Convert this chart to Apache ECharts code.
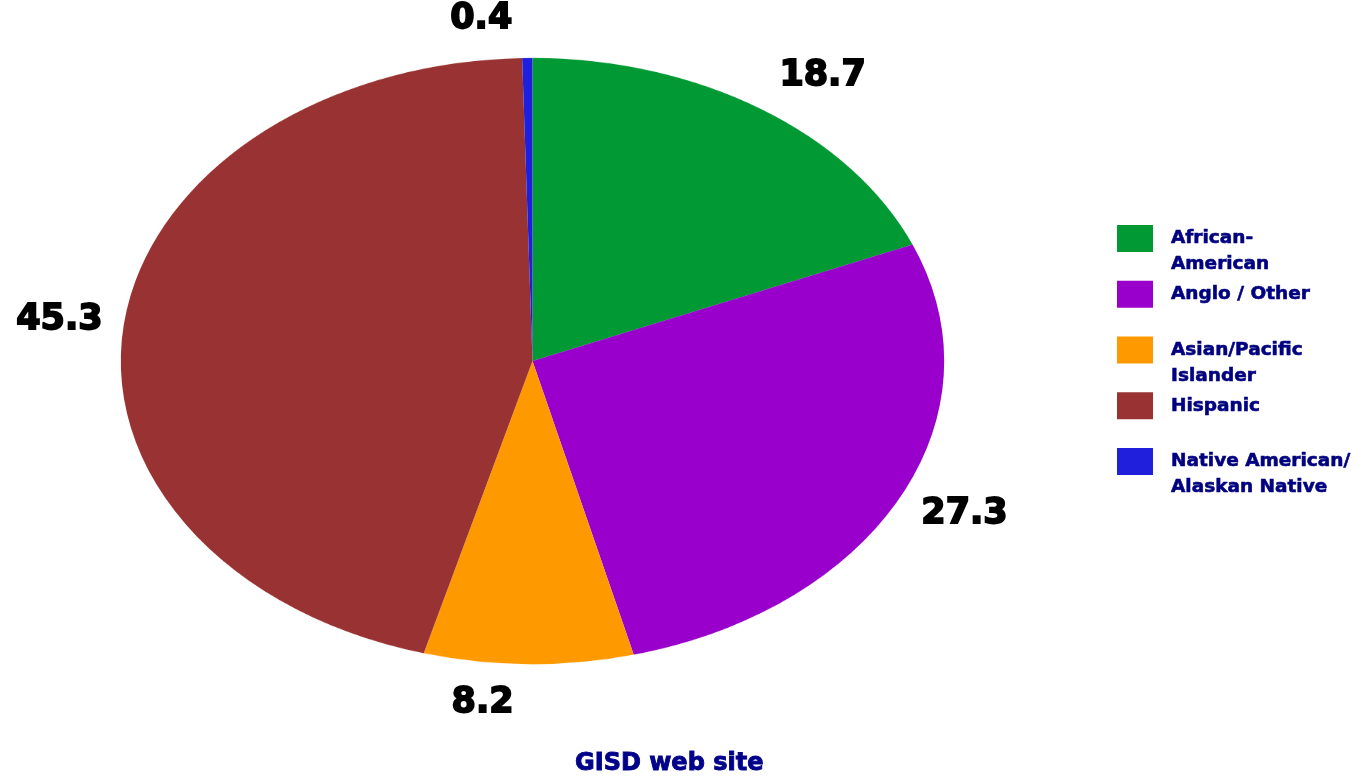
<!DOCTYPE html>
<html>

<head>
  <meta charset="utf-8" />
  <title>GISD student ethnicity</title>
  <script src="https://cdn.jsdelivr.net/npm/echarts@6/dist/echarts.min.js"></script>
  <style>
    body { margin: 0; background: #fff; overflow: hidden; }
    #wrap { position: relative; width: 1370px; height: 781px; }
    /* the pie itself is drawn round, then squashed into the flat ellipse */
    #slices { position: absolute; left: 0; top: 0; width: 1370px; height: 1061px;
      transform: scaleY(0.736); transform-origin: 0 0; }
    #overlay { position: absolute; left: 0; top: 0; width: 1370px; height: 781px; }
  </style>
</head>

<body>
  <div id="wrap">
    <div id="slices"></div>
    <div id="overlay"></div>
  </div>
  <script type="text/javascript">

    // Inline data
    let groups = ['African-American', 'Anglo / Other', 'Asian/Pacific Islander', 'Hispanic',
      'Native American/Alaskan Native'];
    let shares = [18.7, 27.3, 8.2, 45.3, 0.4];
    let legendLabels = ['African-\nAmerican', 'Anglo / Other\n ', 'Asian/Pacific\nIslander',
      'Hispanic\n ', 'Native American/\nAlaskan Native'];
    let colors = ['#009933', '#9900CC', '#FF9900', '#993333', '#2020DC'];

    let flatten = 0.736;      // vertical squash of the pie
    let labelFlatten = 0.819; // labels sit on a slightly rounder ring
    let cx = 532.5, cy = 361, radius = 411.7;

    let pieData = groups.map(function (g, i) { return { name: g, value: shares[i] }; });

    // Layer 1: coloured slices (container is scaled by CSS)
    var chartSlices = echarts.init(document.getElementById('slices'));
    chartSlices.setOption({
      animation: false,
      backgroundColor: 'transparent',
      color: colors,
      series: [
        {
          type: 'pie',
          center: [cx, cy / flatten],
          radius: radius,
          startAngle: 90,
          clockwise: true,
          silent: true,
          label: { show: false },
          labelLine: { show: false },
          itemStyle: { borderWidth: 0 },
          data: pieData
        }
      ]
    });

    // Layer 2: value labels, legend and source line
    var chartOverlay = echarts.init(document.getElementById('overlay'));
    chartOverlay.setOption({
      animation: false,
      backgroundColor: 'transparent',
      title: {
        text: 'GISD web site',
        left: 575,
        top: 752,
        padding: 0,
        textStyle: {
          fontFamily: 'DejaVu Sans',
          fontWeight: 'bold',
          fontSize: 24,
          color: '#00008B',
          textBorderColor: '#00008B',
          textBorderWidth: 0.9
        }
      },
      legend: {
        orient: 'vertical',
        left: 1117,
        top: 199.5,
        padding: 0,
        icon: 'rect',
        itemWidth: 36,
        itemHeight: 27,
        itemGap: -22.25,
        selectedMode: false,
        data: groups.map(function (g, i) { return { name: g, itemStyle: { color: colors[i], opacity: 1 } }; }),
        // leading blank line keeps the first text line level with the swatch
        formatter: function (name) { return '\n' + legendLabels[groups.indexOf(name)]; },
        textStyle: {
          fontFamily: 'DejaVu Sans',
          fontWeight: 'bold',
          fontSize: 18.5,
          lineHeight: 26,
          color: '#000080',
          textBorderColor: '#000080',
          textBorderWidth: 0.6,
          padding: [0, 0, 0, 13]
        }
      },
      series: [
        {
          type: 'pie',
          center: [cx, cy],
          radius: radius,
          startAngle: 90,
          clockwise: true,
          avoidLabelOverlap: false,
          silent: true,
          itemStyle: { color: 'rgba(0,0,0,0)' },
          label: {
            show: true,
            position: 'outside',
            formatter: '{c}',
            distanceToLabelLine: 15,
            fontFamily: 'DejaVu Sans',
            fontWeight: 'bold',
            fontSize: 35,
            color: '#000',
            textBorderColor: '#000',
            textBorderWidth: 1.8
          },
          labelLine: { show: false, length: 6.3, length2: 0 },
          labelLayout: function (params) {
            var r = params.labelRect;
            return {
              x: r.x + r.width / 2,
              y: cy + (r.y + r.height / 2 - cy) * labelFlatten,
              align: 'center',
              verticalAlign: 'middle'
            };
          },
          data: pieData
        }
      ]
    });
  </script>
</body>

</html>
